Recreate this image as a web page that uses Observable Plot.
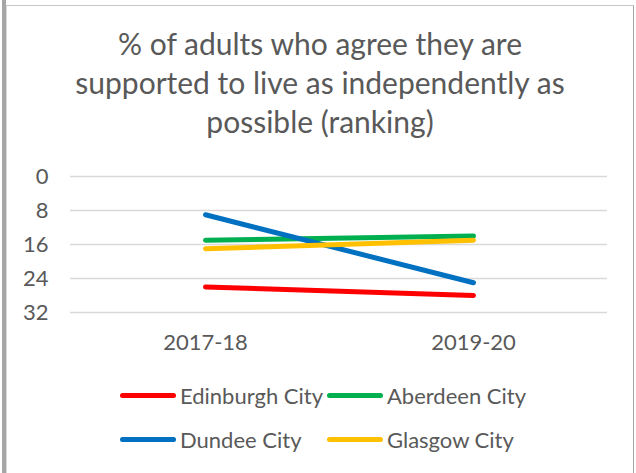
<!DOCTYPE html>
<html>
<head>
<meta charset="utf-8">
<script src="https://cdn.jsdelivr.net/npm/d3@7"></script>
<script src="https://cdn.jsdelivr.net/npm/@observablehq/plot@0.6"></script>
<style>
  html, body { margin: 0; padding: 0; background: #fff; }
  body { width: 636px; height: 473px; position: relative; overflow: hidden; font-family: Lato, "Open Sans", sans-serif; color: #595959; }
  #leftbar { position: absolute; left: 2px; top: 0; width: 4px; height: 473px; background: #a6a6a6; }
  #frame { position: absolute; left: 6px; top: 5px; width: 628px; height: 480px; border-top: 1px solid #c8c8c8; border-right: 1px solid #a6a6a6; border-left: 1px solid #d9d9d9; box-sizing: border-box; }
  #title { position: absolute; left: 0; top: 24px; width: 640px; text-align: center; font-size: 30px; line-height: 39px; color: #595959; }
  #chart { position: absolute; left: 0; top: 160px; }
  #legend { position: absolute; left: 120px; top: 373px; }
  .row { display: flex; height: 44px; align-items: center; }
  .item { display: flex; align-items: center; font-size: 22px; color: #595959; }
  .item.c1 { width: 207px; }
  .sw { display: inline-block; width: 56px; height: 5px; border-radius: 3px; margin-right: 4px; }
</style>
</head>
<body>
<div id="leftbar"></div>
<div id="frame"></div>
<div id="title"></div>
<div id="chart"></div>
<div id="legend"></div>
<script>
const titleLines = ["% of adults who agree they are", "supported to live as independently as", "possible (ranking)"];
const years = ["2017-18", "2019-20"];
const seriesNames = ["Edinburgh City", "Aberdeen City", "Dundee City", "Glasgow City"];
const seriesColors = ["#ff0000", "#00b050", "#0070c0", "#ffc000"];
const edinburgh = [26, 28];
const aberdeen = [15, 14];
const dundee = [9, 25];
const glasgow = [17, 15];
const yTicks = [0, 8, 16, 24, 32];

const seriesValues = [edinburgh, aberdeen, dundee, glasgow];
const data = [];
seriesNames.forEach((name, i) => {
  years.forEach((yr, j) => data.push({series: name, year: yr, value: seriesValues[i][j]}));
});

document.getElementById("title").innerHTML = titleLines.map(t => `<div>${t}</div>`).join("");

const plot = Plot.plot({
  width: 636,
  height: 200,
  marginTop: 16,
  marginBottom: 48,
  marginLeft: 70,
  marginRight: 29,
  style: {fontFamily: "Lato, 'Open Sans', sans-serif", fontSize: "22px", color: "#595959", background: "transparent"},
  x: {type: "point", domain: years, padding: 0.5, label: null, tickSize: 0, tickPadding: 22},
  y: {domain: [0, 32], reverse: true, ticks: yTicks, label: null, tickSize: 0, tickPadding: 22},
  color: {domain: seriesNames, range: seriesColors},
  marks: [
    Plot.gridY(yTicks, {stroke: "#d9d9d9", strokeOpacity: 1, strokeWidth: 1.5}),
    Plot.axisY({ticks: yTicks, tickSize: 0, tickPadding: 22, fontSize: 22, fill: "#595959", label: null}),
    Plot.axisX({tickSize: 0, tickPadding: 22, fontSize: 22, fill: "#595959", label: null}),
    Plot.line(data, {x: "year", y: "value", z: "series", stroke: "series", strokeWidth: 5, strokeLinecap: "round"})
  ]
});
document.getElementById("chart").appendChild(plot);

const leg = document.getElementById("legend");
const rows = [[0, 1], [2, 3]];
rows.forEach(r => {
  const row = document.createElement("div");
  row.className = "row";
  r.forEach((i, k) => {
    const it = document.createElement("div");
    it.className = "item" + (k === 0 ? " c1" : "");
    it.innerHTML = `<span class="sw" style="background:${seriesColors[i]}"></span><span>${seriesNames[i]}</span>`;
    row.appendChild(it);
  });
  leg.appendChild(row);
});
</script>
</body>
</html>
